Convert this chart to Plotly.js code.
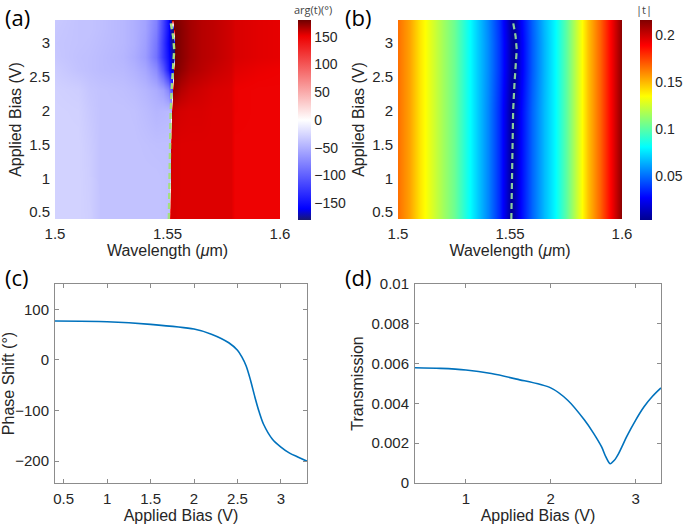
<!DOCTYPE html>
<html>
<head>
<meta charset="utf-8">
<script src="https://cdn.plot.ly/plotly-3.0.1.min.js"></script>
<style>html,body{margin:0;padding:0;background:#fff;}#chart{width:685px;height:531px;}</style>
</head>
<body>
<div id="chart"></div>
<script>
// ---------- Panel (a): phase arg(t) in degrees ----------
const wavelengthA = [1.500, 1.510, 1.515, 1.520, 1.530, 1.535, 1.540, 1.545, 1.548, 1.550, 1.5505, 1.551, 1.5515, 1.552, 1.5525, 1.553, 1.5535, 1.554, 1.556, 1.560, 1.565, 1.570, 1.578, 1.580, 1.590, 1.600];
const biasA = [0.4, 1.0, 1.5, 2.0, 2.3, 2.6, 2.8, 3.0, 3.2, 3.34];
const phaseMap = [
  [-28, -28, -30, -38, -38, -38, -38, -38, -39, -40, -42, 156, 156, 156, 156, 156, 156, 155, 155, 155, 155, 155, 155, 150, 150, 150],
  [-28, -28, -31, -38, -38, -38, -38, -38, -39, -40, -41, -42, 157, 156, 156, 156, 156, 156, 155, 155, 155, 155, 155, 150, 150, 150],
  [-28, -28, -32, -38, -38, -38, -39, -40, -40, -40, -41, -42, 158, 157, 156, 156, 156, 156, 155, 155, 155, 155, 155, 150, 150, 150],
  [-28, -29, -34, -38, -38, -39, -42, -46, -45, -44, -45, -46, -48, 162, 161, 160, 159, 158, 157, 156, 156, 155, 155, 151, 150, 150],
  [-29, -31, -36, -38, -40, -42, -46, -52, -60, -75, -85, -95, -105, -115, 172, 171, 170, 168, 164, 160, 158, 156, 155, 151, 150, 150],
  [-32, -38, -40, -42, -44, -48, -55, -72, -105, -140, -150, -158, -164, -169, -173, 178, 177, 176, 172, 166, 163, 160, 157, 154, 152, 151],
  [-35, -39, -40, -42, -46, -52, -62, -88, -125, -150, -157, -163, -167, -171, -174, -177, 179, 177, 174, 168, 164, 162, 158, 156, 154, 153],
  [-36, -38, -39, -41, -45, -50, -60, -85, -125, -155, -162, -168, -172, -175, -177, -178, 179, 177, 174, 168, 164, 162, 158, 156, 154, 153],
  [-35, -38, -38, -40, -45, -50, -58, -80, -120, -150, -160, -167, -172, -175, -178, 179, 178, 177, 174, 168, 164, 162, 158, 156, 154, 153],
  [-34, -38, -38, -40, -45, -50, -58, -78, -118, -150, -162, -170, -176, 179, 178, 178, 177, 176, 173, 168, 164, 162, 158, 156, 154, 153]
];

// ---------- Panel (b): |t| ----------
const wavelengthB = [1.500, 1.505, 1.510, 1.515, 1.520, 1.525, 1.530, 1.535, 1.540, 1.545, 1.548, 1.5505, 1.552, 1.555, 1.560, 1.565, 1.570, 1.575, 1.580, 1.585, 1.590, 1.595, 1.600];
const biasB = [0.4, 2.0, 2.6, 3.0, 3.34];
const magMap = [
  [0.165, 0.155, 0.140, 0.127, 0.115, 0.104, 0.088, 0.072, 0.055, 0.036, 0.018, 0.004, 0.010, 0.028, 0.048, 0.066, 0.080, 0.100, 0.124, 0.148, 0.168, 0.190, 0.215],
  [0.165, 0.155, 0.140, 0.127, 0.115, 0.104, 0.088, 0.072, 0.055, 0.036, 0.019, 0.005, 0.008, 0.027, 0.048, 0.066, 0.080, 0.100, 0.124, 0.148, 0.168, 0.190, 0.215],
  [0.165, 0.155, 0.140, 0.127, 0.115, 0.104, 0.088, 0.072, 0.056, 0.038, 0.022, 0.009, 0.004, 0.024, 0.046, 0.065, 0.080, 0.100, 0.124, 0.148, 0.168, 0.190, 0.215],
  [0.165, 0.155, 0.140, 0.127, 0.115, 0.104, 0.088, 0.072, 0.056, 0.038, 0.022, 0.009, 0.004, 0.024, 0.046, 0.065, 0.080, 0.100, 0.124, 0.148, 0.168, 0.190, 0.215],
  [0.165, 0.155, 0.140, 0.127, 0.115, 0.104, 0.088, 0.072, 0.055, 0.037, 0.020, 0.006, 0.006, 0.026, 0.047, 0.066, 0.080, 0.100, 0.124, 0.148, 0.168, 0.190, 0.215]
];

// resonance (minimum of |t|) tracked versus bias - dashed line
const resBias = [0.4, 1.0, 1.5, 2.0, 2.4, 2.7, 2.9, 3.1, 3.34];
const resWavelength = [1.5506, 1.5508, 1.5510, 1.5514, 1.5520, 1.5528, 1.5530, 1.5525, 1.5512];

// ---------- Panel (c): phase shift vs bias ----------
const biasC = [0.4, 1.0, 1.5, 2.0, 2.2, 2.4, 2.5, 2.55, 2.6, 2.65, 2.7, 2.75, 2.8, 2.9, 3.0, 3.1, 3.2, 3.3];
const phaseShift = [76.9, 75.5, 70.3, 61, 51, 34, 19, 6, -12, -40, -73, -103, -127, -156, -172, -184, -192, -200];

// ---------- Panel (d): transmission vs bias ----------
const biasD = [0.4, 0.7, 1.0, 1.3, 1.6, 2.0, 2.2, 2.4, 2.5, 2.6, 2.65, 2.7, 2.75, 2.8, 2.9, 3.0, 3.1, 3.2, 3.3];
const transmission = [0.00579, 0.00576, 0.00568, 0.0055, 0.00522, 0.00478, 0.00416, 0.00315, 0.00253, 0.00181, 0.00131, 0.00097, 0.00114, 0.00148, 0.00237, 0.00315, 0.00383, 0.00436, 0.00478];

const FONT = 'Liberation Sans, Arial, sans-serif';
const TXT = '#262626';
const AX = '#8c8c8c';
const LINEBLUE = '#0072BD';

const bwr = [[0, 'rgb(25,25,110)'], [0.0556, 'rgb(0,0,255)'], [0.5, 'rgb(255,255,255)'], [0.92, 'rgb(238,0,0)'], [1, 'rgb(110,0,0)']];
const jet = [[0, 'rgb(0,0,143)'], [0.111, 'rgb(0,0,255)'], [0.365, 'rgb(0,255,255)'], [0.619, 'rgb(255,255,0)'], [0.873, 'rgb(255,0,0)'], [1, 'rgb(128,0,0)']];

const W = 685, H = 531;
const fx = p => p / W;
const fy = p => 1 - p / H;

const traces = [
  {
    type: 'heatmap', x: wavelengthA, y: biasA, z: phaseMap, zsmooth: 'best',
    colorscale: bwr, zmin: -180, zmax: 180, xaxis: 'x', yaxis: 'y',
    colorbar: {x: fx(298), xanchor: 'left', xpad: 0, y: fy(20), yanchor: 'top', ypad: 0,
      len: 200 / H, lenmode: 'fraction', thickness: 13, outlinewidth: 0,
      tickvals: [-150, -100, -50, 0, 50, 100, 150], ticks: '', tickfont: {family: FONT, size: 14, color: TXT}}
  },
  {
    type: 'scatter', mode: 'lines', x: resWavelength, y: resBias, xaxis: 'x', yaxis: 'y',
    line: {color: '#a3e07f', width: 2.4, dash: '6px,4px'}, showlegend: false
  },
  {
    type: 'heatmap', x: wavelengthB, y: biasB, z: magMap, zsmooth: 'best',
    colorscale: jet, zmin: 0.003, zmax: 0.216, xaxis: 'x2', yaxis: 'y2',
    colorbar: {x: fx(640), xanchor: 'left', xpad: 0, y: fy(20), yanchor: 'top', ypad: 0,
      len: 200 / H, lenmode: 'fraction', thickness: 12, outlinewidth: 0,
      tickvals: [0.05, 0.1, 0.15, 0.2], ticks: '', tickfont: {family: FONT, size: 14, color: TXT}}
  },
  {
    type: 'scatter', mode: 'lines', x: resWavelength, y: resBias, xaxis: 'x2', yaxis: 'y2',
    line: {color: '#8ccc9c', width: 2.2, dash: '6px,4px'}, showlegend: false
  },
  {
    type: 'scatter', mode: 'lines', x: biasC, y: phaseShift, xaxis: 'x3', yaxis: 'y3',
    line: {color: LINEBLUE, width: 1.6, shape: 'spline', smoothing: 0.8}, showlegend: false
  },
  {
    type: 'scatter', mode: 'lines', x: biasD, y: transmission, xaxis: 'x4', yaxis: 'y4',
    line: {color: LINEBLUE, width: 1.6, shape: 'spline', smoothing: 0.8}, showlegend: false
  }
];

const tickFont = {family: FONT, size: 15, color: TXT};
const titleFont = {family: FONT, size: 16, color: TXT};
const panelFont = {family: 'Open Sans, sans-serif', size: 22, color: '#000'};

function mapX(anchor, domain, range, tickvals, title, standoff) {
  return {anchor: anchor, domain: domain, range: range, tickvals: tickvals, ticks: '', showline: false, zeroline: false,
    showgrid: false, tickfont: tickFont, ticklabelstandoff: 4, automargin: false,
    title: {text: title, font: titleFont, standoff: standoff}};
}
function mapY(anchor, domain, range, tickvals, title, standoff) {
  return {anchor: anchor, domain: domain, range: range, tickvals: tickvals, ticks: '', showline: false, zeroline: false,
    showgrid: false, tickfont: tickFont, ticklabelstandoff: 4, automargin: false,
    title: {text: title, font: titleFont, standoff: standoff}};
}
function lineX(anchor, domain, range, tickvals, title) {
  return {anchor: anchor, domain: domain, range: range, tickvals: tickvals, ticks: 'inside', ticklen: 4, tickcolor: AX,
    showline: true, linecolor: AX, linewidth: 1, mirror: 'ticks', zeroline: false, showgrid: false,
    tickfont: tickFont, ticklabelstandoff: 2, automargin: false,
    title: {text: title, font: titleFont, standoff: 3}};
}
function lineY(anchor, domain, range, tickvals, title) {
  return {anchor: anchor, domain: domain, range: range, tickvals: tickvals, ticks: 'inside', ticklen: 4, tickcolor: AX,
    showline: true, linecolor: AX, linewidth: 1, mirror: 'ticks', zeroline: false, showgrid: false,
    tickfont: tickFont, ticklabelstandoff: 2, automargin: false,
    title: {text: title, font: titleFont, standoff: 3}};
}

const layout = {
  width: W, height: H, margin: {l: 0, r: 0, t: 0, b: 0}, paper_bgcolor: '#fff', plot_bgcolor: '#fff',
  showlegend: false,
  font: {family: FONT, color: TXT},
  xaxis: mapX('y', [fx(55), fx(280)], [1.5, 1.6], [1.5, 1.55, 1.6], 'Wavelength (<i>μ</i>m)', 1),
  yaxis: mapY('x', [fy(219), fy(20)], [0.4, 3.34], [0.5, 1, 1.5, 2, 2.5, 3], 'Applied Bias (V)', 3),
  xaxis2: mapX('y2', [fx(398), fx(622)], [1.5, 1.6], [1.5, 1.55, 1.6], 'Wavelength (<i>μ</i>m)', 1),
  yaxis2: mapY('x2', [fy(219), fy(20)], [0.4, 3.34], [0.5, 1, 1.5, 2, 2.5, 3], 'Applied Bias (V)', 3),
  xaxis3: lineX('y3', [fx(55), fx(307)], [0.4, 3.3], [0.5, 1, 1.5, 2, 2.5, 3], 'Applied Bias (V)'),
  yaxis3: lineY('x3', [fy(483), fy(284)], [-243, 150], [-200, -100, 0, 100], 'Phase Shift (°)'),
  xaxis4: lineX('y4', [fx(415), fx(661)], [0.4, 3.3], [1, 2, 3], 'Applied Bias (V)'),
  yaxis4: lineY('x4', [fy(483), fy(284)], [0, 0.01], [0, 0.002, 0.004, 0.006, 0.008, 0.01], 'Transmission'),
  annotations: [
    {text: '(a)', x: fx(3), y: fy(17), xref: 'paper', yref: 'paper', xanchor: 'left', yanchor: 'middle', showarrow: false, font: panelFont},
    {text: '(b)', x: fx(343), y: fy(17), xref: 'paper', yref: 'paper', xanchor: 'left', yanchor: 'middle', showarrow: false, font: panelFont},
    {text: '(c)', x: fx(3), y: fy(277), xref: 'paper', yref: 'paper', xanchor: 'left', yanchor: 'middle', showarrow: false, font: panelFont},
    {text: '(d)', x: fx(343), y: fy(277), xref: 'paper', yref: 'paper', xanchor: 'left', yanchor: 'middle', showarrow: false, font: panelFont},
    {text: 'arg(t)(°)', x: fx(313), y: fy(10), xref: 'paper', yref: 'paper', xanchor: 'center', yanchor: 'middle', showarrow: false, font: {family: 'Open Sans, sans-serif', size: 11, color: '#444'}},
    {text: '|t|', x: fx(644), y: fy(10), xref: 'paper', yref: 'paper', xanchor: 'center', yanchor: 'middle', showarrow: false, font: {family: 'Open Sans, sans-serif', size: 11, color: '#444'}}
  ]
};

Plotly.newPlot('chart', traces, layout, {staticPlot: true, displayModeBar: false});
</script>
</body>
</html>
